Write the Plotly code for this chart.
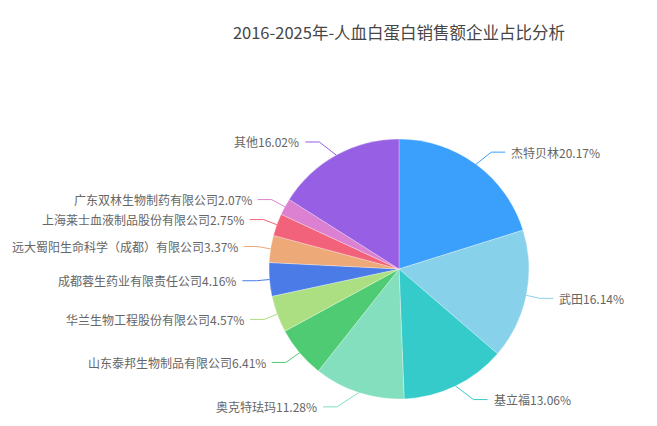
import math
import plotly.graph_objects as go

# 数据
companies = [
    "杰特贝林", "武田", "基立福", "奥克特珐玛",
    "山东泰邦生物制品有限公司", "华兰生物工程股份有限公司",
    "成都蓉生药业有限责任公司", "远大蜀阳生命科学（成都）有限公司",
    "上海莱士血液制品股份有限公司", "广东双林生物制药有限公司", "其他",
]
shares = [20.17, 16.14, 13.06, 11.28, 6.41, 4.57, 4.16, 3.37, 2.75, 2.07, 16.02]
colors = [
    "#3aa0fc", "#88d1ea", "#36cbcb", "#84dfbf", "#4ecb73", "#acdf82",
    "#4a7be6", "#eda977", "#f2637b", "#dc81d2", "#975fe4",
]
title_text = "2016-2025年-人血白蛋白销售额企业占比分析"

W, H = 657, 426
off = 8  # 页面 body 默认边距
cx, cy, R = 399 - off, 269 - off, 130
# 引导线拐点所在的椭圆（类似 echarts 的标签布局）
ky, ea, eb = 145, 143, 153
len2, gap = 14, 4

fig = go.Figure(go.Pie(
    labels=companies,
    values=shares,
    sort=False,
    direction="clockwise",
    rotation=0,
    marker=dict(colors=colors, line=dict(color="white", width=0.3)),
    textinfo="none",
    hoverinfo="label+percent",
    domain=dict(x=[(cx - R) / W, (cx + R) / W],
                y=[(H - cy - R) / H, (H - cy + R) / H]),
    showlegend=False,
))

# 引导线和标签
total = sum(shares)
cum = 0
for name, v, c in zip(companies, shares, colors):
    mid = (cum + v / 2) / total * 2 * math.pi
    cum += v
    sx, sy = math.sin(mid), -math.cos(mid)
    side = 1 if sx >= 0 else -1
    x0, y0 = cx + R * sx, cy + R * sy
    dy = ky * sy
    y1 = cy + dy
    x1 = cx + side * ea * math.sqrt(max(0.0, 1 - dy * dy / (eb * eb)))
    x2 = x1 + side * len2
    pts = [(x0, y0), (x1, y1), (x2, y1)]
    path = "M " + " L ".join(f"{px / W},{1 - py / H}" for px, py in pts)
    fig.add_shape(type="path", path=path, xref="paper", yref="paper",
                  line=dict(color=c, width=1))
    fig.add_annotation(
        x=(x2 + side * gap) / W, y=1 - y1 / H, xref="paper", yref="paper",
        text=f"{name}{v:.2f}%", showarrow=False,
        xanchor="left" if side > 0 else "right", yanchor="middle",
        font=dict(size=12, color="#666666"),
    )

fig.update_layout(
    width=W, height=H,
    margin=dict(l=0, r=0, t=0, b=0),
    paper_bgcolor="white",
    font=dict(family="Noto Sans CJK SC, sans-serif"),
    title=dict(text=title_text, x=cx / W, xanchor="center", y=1 - (33 - off) / H,
               yanchor="middle", font=dict(size=16.5, color="#464646")),
)

fig.write_html("out.html")
